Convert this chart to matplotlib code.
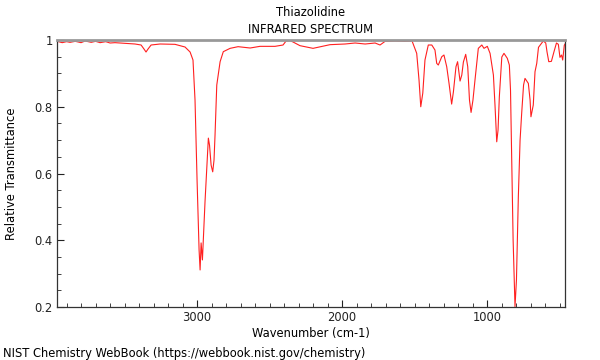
"""
IR spectrum of thiazolidine, redrawn in the NIST WebBook style.
Output: out.png (600x360)
"""
import matplotlib
matplotlib.use("Agg")
import matplotlib.pyplot as plt
from matplotlib.ticker import MultipleLocator, FormatStrFormatter

TITLE = "Thiazolidine"
SUBTITLE = "INFRARED SPECTRUM"
X_LABEL = "Wavenumber (cm-1)"
Y_LABEL = "Relative Transmittance"
FOOTER = "NIST Chemistry WebBook (https://webbook.nist.gov/chemistry)"

# wavenumber (cm-1) and transmittance
WAVENUMBER = [
    3965, 3930, 3900, 3876, 3840, 3800, 3772, 3730, 3700, 3669, 3630, 3600,
    3566, 3497, 3428, 3386, 3366, 3352, 3338, 3317,
    3255, 3152, 3083, 3048, 3028, 3014, 3000, 2986, 2979, 2972, 2963, 2945,
    2922, 2914, 2903, 2892, 2883, 2876, 2864, 2841, 2819, 2772, 2717, 2634,
    2566, 2462, 2407, 2386, 2359, 2338, 2290, 2200, 2083, 1979, 1910, 1841,
    1772, 1738, 1703, 1634, 1566, 1517, 1485, 1469, 1457, 1443, 1428, 1405,
    1381, 1359, 1347, 1336, 1312, 1297, 1278, 1262, 1244, 1232, 1214, 1203,
    1186, 1174, 1163, 1147, 1133, 1121, 1110, 1097, 1083, 1060, 1036, 1021,
    998, 979, 956, 945, 933, 924, 915, 898, 883, 860, 846, 838, 829, 820,
    807, 797, 784, 772, 761, 748, 738, 715, 703, 697, 681, 669, 657, 645,
    628, 612, 595, 586, 574, 556, 538, 521, 508, 497, 486, 478, 467, 462,
]
TRANSMITTANCE = [
    0.996, 0.992, 0.995, 0.993, 0.996, 0.992, 0.997, 0.993, 0.996, 0.992, 0.995, 0.991,
    0.992, 0.990, 0.988, 0.985, 0.973, 0.964, 0.973, 0.985,
    0.988, 0.987, 0.979, 0.964, 0.940, 0.820, 0.581, 0.371, 0.311, 0.392, 0.341, 0.516,
    0.706, 0.685, 0.625, 0.605, 0.640, 0.715, 0.865, 0.935, 0.965, 0.975, 0.980, 0.976,
    0.981, 0.981, 0.985, 0.997, 0.998, 0.994, 0.983, 0.975, 0.986, 0.988, 0.991, 0.988,
    0.991, 0.985, 0.996, 0.997, 0.996, 0.997, 0.960, 0.880, 0.800, 0.841, 0.940, 0.985,
    0.985, 0.970, 0.930, 0.925, 0.950, 0.955, 0.920, 0.870, 0.808, 0.844, 0.920, 0.935,
    0.877, 0.895, 0.934, 0.957, 0.920, 0.820, 0.783, 0.820, 0.880, 0.975, 0.985, 0.975,
    0.981, 0.960, 0.895, 0.805, 0.695, 0.730, 0.830, 0.949, 0.960, 0.945, 0.925, 0.850, 0.631, 0.401,
    0.201, 0.281, 0.530, 0.700, 0.780, 0.865, 0.885, 0.870, 0.820, 0.770, 0.805, 0.905, 0.930, 0.978,
    0.988, 0.997, 0.991, 0.964, 0.935, 0.936, 0.965, 0.991, 0.987, 0.948, 0.955, 0.940, 0.984, 0.988,
]

X_RANGE = (3966, 462)
Y_RANGE = (0.2, 1.0)
FS = 8.3


def main():
    fig = plt.figure(figsize=(6, 3.6), dpi=100)
    ax = fig.add_axes([0.095, 0.1472, 0.8467, 0.7417])

    ax.plot(WAVENUMBER, TRANSMITTANCE, color="#ff2020", lw=0.8)

    ax.set_xlim(*X_RANGE)
    ax.set_ylim(*Y_RANGE)

    ax.xaxis.set_major_locator(MultipleLocator(1000))
    ax.xaxis.set_minor_locator(MultipleLocator(100))
    ax.yaxis.set_major_locator(MultipleLocator(0.2))
    ax.yaxis.set_minor_locator(MultipleLocator(0.05))
    ax.yaxis.set_major_formatter(FormatStrFormatter("%g"))

    ax.tick_params(which="both", direction="in", top=False, right=False,
                   labelsize=FS, colors="#222", pad=3)
    ax.tick_params(which="major", length=5, width=0.8)
    ax.tick_params(which="minor", length=3, width=0.6)

    for side in ("left", "bottom", "right"):
        ax.spines[side].set_color("#333")
        ax.spines[side].set_linewidth(0.9)
    ax.spines["top"].set_color("#999")
    ax.spines["top"].set_linewidth(2)

    ax.set_xlabel(X_LABEL, fontsize=FS, labelpad=2)
    ax.set_ylabel(Y_LABEL, fontsize=FS, labelpad=12)

    fig.text(0.518, 0.965, TITLE, ha="center", va="center", fontsize=FS)
    fig.text(0.518, 0.917, SUBTITLE, ha="center", va="center", fontsize=FS)
    fig.text(0.005, 0.019, FOOTER, ha="left", va="center", fontsize=FS)

    fig.savefig("out.png", dpi=100, facecolor="white")
    plt.close(fig)


if __name__ == "__main__":
    main()
